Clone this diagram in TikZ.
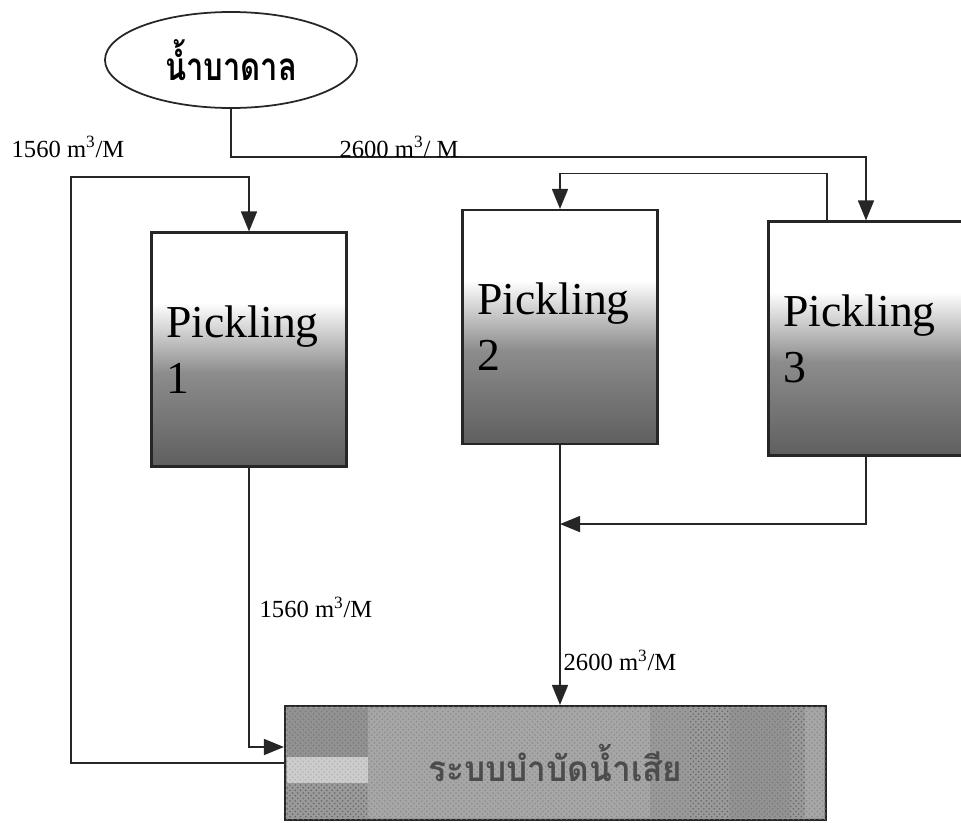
\documentclass[tikz,border=0pt]{standalone}
\usepackage{fontspec}
\setmainfont{Liberation Serif}
\newfontfamily\thaifont[Script=Thai]{Loma}
\usepackage{xcolor}
\definecolor{tankdark}{HTML}{4A4A4A}
\definecolor{tankmid}{HTML}{8C8C8C}
\definecolor{plantgray}{HTML}{9A9A9A}
\usepackage{tikz}
\usetikzlibrary{shapes.geometric, arrows.meta, positioning, calc, patterns}
\pgfdeclareverticalshading{tankfill}{100bp}{color(0bp)=(tankdark); color(22bp)=(tankdark!92); color(45bp)=(tankmid); color(60bp)=(white); color(100bp)=(white)}

\begin{document}
\begin{tikzpicture}[x=0.2mm, y=-0.2mm,
    tank/.style={draw=black!85, line width=1.2pt, shading=tankfill, minimum width=39mm, minimum height=46.8mm,
      inner sep=0pt, font=\fontsize{26}{30}\selectfont, align=left, text width=33mm},
    flow/.style={draw=black!85, line width=0.9pt, -{Triangle[length=4mm, width=3.2mm]}},
    band/.style={fill=#1, opacity=0.5},
    rate/.style={font=\fontsize{14}{16}\selectfont, inner sep=1pt}]
  \useasboundingbox (0,0) rectangle (961,822);

  % source and treatment
  \node[draw=black!85, line width=1pt, ellipse, minimum width=50.4mm, minimum height=19.2mm,
        font=\thaifont\bfseries\fontsize{22}{26}\selectfont] (well) at (231,60) {\scalebox{0.8}[1]{น้ำบาดาล}};
  \node[draw=black!85, line width=1.2pt, fill=plantgray, minimum width=108.2mm, minimum height=22.8mm,
        inner sep=0pt, postaction={pattern=crosshatch dots, pattern color=black!60}] (treat) at (555.5,763) {};
  \fill[band=black!45] (287,708) rectangle (368,757);
  \fill[band=white] (287,757) rectangle (368,783);
  \fill[band=white!70!black] (368,708) rectangle (650,818);
  \fill[band=black!40] (650,708) rectangle (690,818);
  \fill[band=black!45] (730,708) rectangle (790,818);
  \fill[band=black!30] (805,708) rectangle (824,818);
  \node[font=\thaifont\bfseries\fontsize{20}{24}\selectfont, text=black!70] (treatlbl) at (treat.center) {\scalebox{0.95}[1]{ระบบบำบัดน้ำเสีย}};

  % pickling tanks
  \node[tank] (p1) at (249,349.5) {Pickling\\[2pt]1};
  \node[tank] (p2) at (560,327) {Pickling\\[2pt]2};
  \node[tank] (p3) at (866,338.5) {Pickling\\[2pt]3};

  % water lines
  \draw[flow] (well.south) -- ++(0,48) -| (p3.north);
  \draw[flow] ($(p3.north)+(-39,0)$) -- ++(0,-47) -| (p2.north);
  \draw[flow] (treat.west) -- ++(-213,0) -- ++(0,-586) -| (p1.north);
  \draw[flow] (p1.south) |- ($(treat.west)+(0,-16)$);
  \draw[flow] (p2.south) -- (p2.south |- treat.north);
  \draw[flow] (p3.south) |- ($(p2.south)+(0,79)$);

  % flow rates
  \node[rate] (r1) at (68,147) {1560 m\textsuperscript{3}/M};
  \node[rate] (r2) at (399,147) {2600 m\textsuperscript{3}/ M};
  \node[rate] (r3) at (316,607) {1560 m\textsuperscript{3}/M};
  \node[rate] (r4) at (620,660) {2600 m\textsuperscript{3}/M};
\end{tikzpicture}
\end{document}
